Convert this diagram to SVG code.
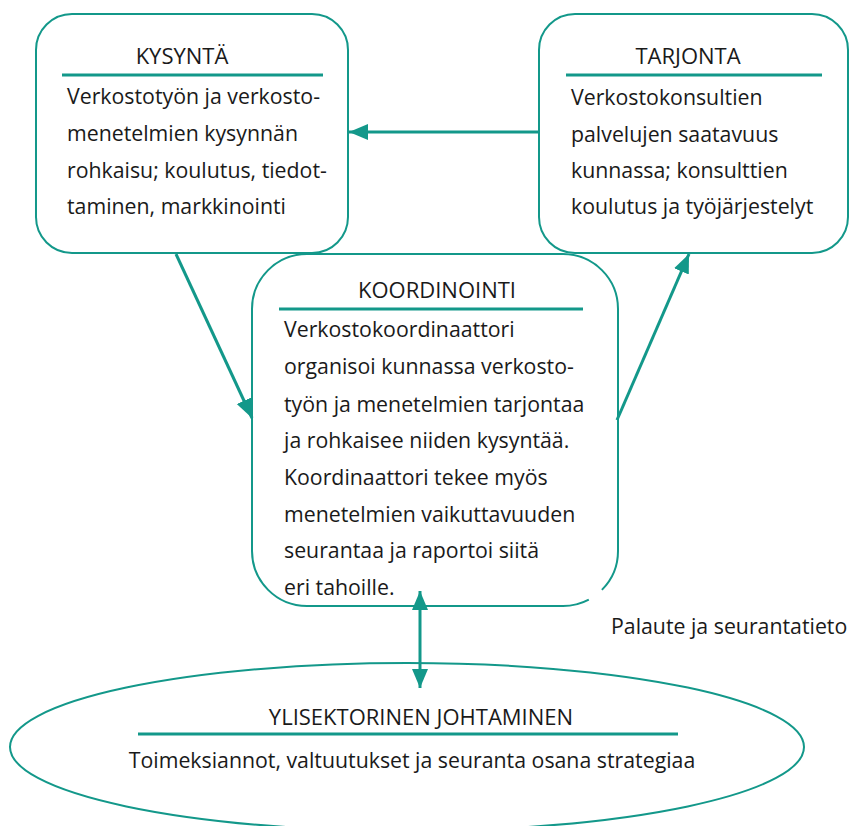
<svg xmlns="http://www.w3.org/2000/svg" width="851" height="826" viewBox="0 0 851 826">
<style>
.box{fill:#fff;stroke:#13988a;stroke-width:2}
.rule{stroke:#13988a;stroke-width:3}
.conn{stroke:#13988a;stroke-width:3;fill:none}
text{font-family:"Open Sans","Noto Sans","Liberation Sans",sans-serif;font-size:21.3px;fill:#1a1a1a}
.h{text-anchor:middle;font-size:22px}
.c{text-anchor:middle}
</style>
<defs>
<marker id="ah" markerUnits="userSpaceOnUse" markerWidth="20" markerHeight="18" refX="19" refY="8" orient="auto">
<path d="M0,0 L19,8 L0,16 z" fill="#13988a"/>
</marker>
<marker id="ahs" markerUnits="userSpaceOnUse" markerWidth="20" markerHeight="18" refX="19" refY="8" orient="auto-start-reverse">
<path d="M0,0 L19,8 L0,16 z" fill="#13988a"/>
</marker>
</defs>
<rect width="851" height="826" fill="#fff"/>
<g id="kysynta">
<rect class="box" x="36" y="14" width="312" height="239" rx="36"/>
<text class="h" x="182" y="64">KYSYNTÄ</text>
<line class="rule" x1="62" y1="75" x2="323" y2="75"/>
<text x="67" y="104">Verkostotyön ja verkosto-</text>
<text x="67" y="141">menetelmien kysynnän</text>
<text x="67" y="178">rohkaisu; koulutus, tiedot-</text>
<text x="67" y="214">taminen, markkinointi</text>
</g>
<g id="tarjonta">
<rect class="box" x="539" y="14" width="309" height="239" rx="36"/>
<text class="h" x="688" y="64">TARJONTA</text>
<line class="rule" x1="566" y1="75" x2="822" y2="75"/>
<text x="571" y="105">Verkostokonsultien</text>
<text x="571" y="142">palvelujen saatavuus</text>
<text x="571" y="178">kunnassa; konsulttien</text>
<text x="571" y="214">koulutus ja työjärjestelyt</text>
</g>
<g id="koordinointi">
<path class="box" d="M588.8,599.6 A55,55 0 0 1 563,606 L307,606 A55,55 0 0 1 252,551 L252,309 A55,55 0 0 1 307,254 L563,254 A55,55 0 0 1 618,309 L618,551 A55,55 0 0 1 601.9,589.9"/>
<text class="h" x="437" y="298">KOORDINOINTI</text>
<line class="rule" x1="279" y1="309" x2="583" y2="309"/>
<text x="284" y="337">Verkostokoordinaattori</text>
<text x="284" y="374">organisoi kunnassa verkosto-</text>
<text x="284" y="412">työn ja menetelmien tarjontaa</text>
<text x="284" y="448">ja rohkaisee niiden kysyntää.</text>
<text x="284" y="485">Koordinaattori tekee myös</text>
<text x="284" y="522">menetelmien vaikuttavuuden</text>
<text x="284" y="558">seurantaa ja raportoi siitä</text>
<text x="284" y="595">eri tahoille.</text>
</g>
<g id="johtaminen">
<ellipse class="box" cx="407" cy="747" rx="397" ry="84"/>
<text class="h" x="421" y="725">YLISEKTORINEN JOHTAMINEN</text>
<line class="rule" x1="138" y1="734" x2="678" y2="734"/>
<text class="c" x="412" y="768">Toimeksiannot, valtuutukset ja seuranta osana strategiaa</text>
</g>
<g id="connectors">
<line class="conn" x1="539" y1="132" x2="349" y2="132" marker-end="url(#ah)"/>
<line class="conn" x1="176" y1="254" x2="252" y2="418" marker-end="url(#ah)"/>
<line class="conn" x1="617" y1="420" x2="689" y2="254" marker-end="url(#ah)"/>
<line class="conn" x1="420" y1="591" x2="420" y2="688" marker-start="url(#ahs)" marker-end="url(#ah)"/>
<text x="611" y="634">Palaute ja seurantatieto</text>
</g>
</svg>
